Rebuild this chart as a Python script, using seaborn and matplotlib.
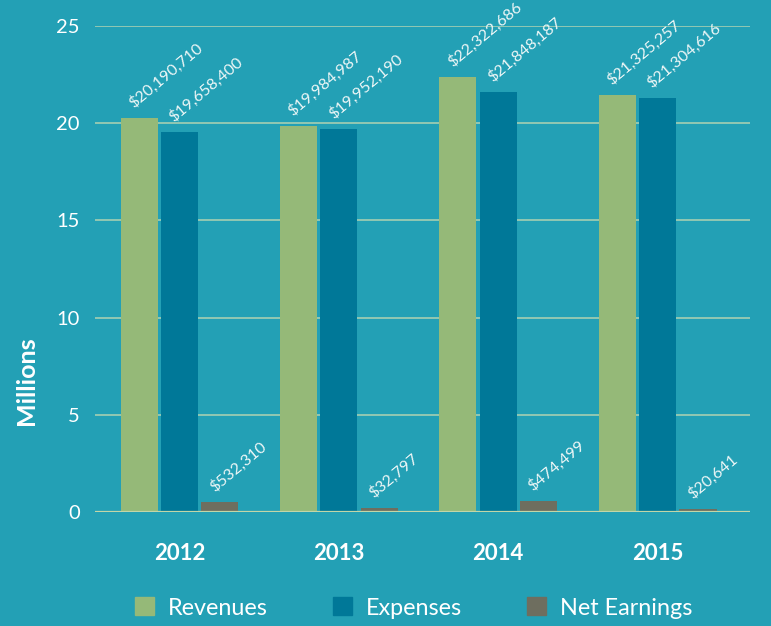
import seaborn as sns
import pandas as pd
import matplotlib.pyplot as plt
import matplotlib

bg = "#23a0b5"
colors = ["#95b978", "#007898", "#6e6e5f"]

years = ['2012', '2013', '2014', '2015']
series = ['Revenues', 'Expenses', 'Net Earnings']
# bar heights in millions, as drawn in the picture
revenues = [20.27, 19.86, 22.40, 21.45]
expenses = [19.55, 19.72, 21.60, 21.30]
net_earnings = [0.52, 0.22, 0.58, 0.16]
# printed labels
revenue_labels = ['$20,190,710', '$19,984,987', '$22,322,686', '$21,325,257']
expense_labels = ['$19,658,400', '$19,952,190', '$21,848,187', '$21,304,616']
net_labels = ['$532,310', '$32,797', '$474,499', '$20,641']

sns.set_style('white')
matplotlib.rcParams['font.family'] = ['Lato', 'DejaVu Sans']

df = pd.DataFrame({
    'year': years * 3,
    'value': revenues + expenses + net_earnings,
    'series': [s for s in series for _ in years],
})

fig = plt.figure(figsize=(7.71, 6.26), dpi=100, facecolor=bg)
ax = fig.add_axes([95 / 771, 1 - 512 / 626, 655 / 771, 486 / 626])
ax.set_facecolor(bg)

sns.barplot(data=df, x='year', y='value', hue='series', palette=colors,
            width=0.76, gap=0.08, saturation=1, linewidth=0, edgecolor='none',
            ax=ax, legend=False)

for container, labels in zip(ax.containers, [revenue_labels, expense_labels, net_labels]):
    for bar, lab in zip(container, labels):
        ax.annotate(lab, (bar.get_x(), bar.get_height()), xytext=(11, 5),
                    textcoords='offset points', rotation=40, rotation_mode='anchor',
                    ha='left', va='bottom', color='#eef7f7', fontsize=11.5,
                    annotation_clip=False)

ax.set_ylim(0, 25)
ax.set_xlim(-0.53, 3.58)
ax.set_yticks(range(0, 26, 5))
ax.grid(axis='y', color='#93c8b2', linewidth=1.4)
ax.axhline(0, color='#c2d6a8', linewidth=1.6, zorder=3)
ax.set_axisbelow(True)
for s in ax.spines.values():
    s.set_visible(False)
ax.tick_params(axis='y', length=0, pad=11, labelsize=14.5, labelcolor='white')
ax.tick_params(axis='x', length=0, pad=22, labelsize=16, labelcolor='white')
for t in ax.get_xticklabels():
    t.set_fontweight('bold')
ax.set_xlabel('')
ax.set_ylabel('Millions', color='white', fontsize=18, fontweight='bold')
ax.yaxis.set_label_coords(-0.087, 0.27)

handles = [plt.Rectangle((0, 0), 1, 1, color=c) for c in colors]
fig.legend(handles, series, loc='center', bbox_to_anchor=(414 / 771, 1 - 608 / 626),
           ncol=3, frameon=False, fontsize=16.8, labelcolor='white',
           handlelength=0.8, handleheight=0.8, handletextpad=0.6, columnspacing=2.8)

plt.savefig('out.png', dpi=100, facecolor=bg)
